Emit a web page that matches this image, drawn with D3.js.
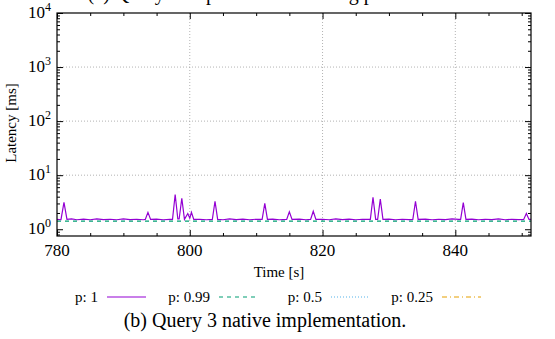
<!DOCTYPE html>
<html>
<head>
<meta charset="utf-8">
<script src="https://cdn.jsdelivr.net/npm/d3@7"></script>
<style>
  body { margin: 0; background: #fff; }
  text { font-family: "Liberation Serif", "DejaVu Serif", serif; fill: #000; }
</style>
</head>
<body>
<div id="chart"></div>
<script>
// valeurs (temps en s, latence en ms)
var p1Time = [780.0, 780.6, 781.05, 781.5, 782.2, 783, 784, 785, 786, 787, 788, 789, 790, 791, 792, 793,
  793.3, 793.7, 794.1, 795, 796, 797, 797.4, 797.8, 798.2, 798.4, 798.8, 799.2, 799.7, 800.0, 800.25, 800.6,
  801.5, 802.5, 803.4, 803.8, 804.2, 805, 806, 807, 808, 809, 810, 810.9, 811.3, 811.7, 812.5, 813.5,
  814.6, 815.0, 815.4, 816.5, 817.5, 818.2, 818.6, 819.0, 820, 821, 822, 823, 824, 825, 826, 827.2,
  827.6, 828.0, 828.3, 828.7, 829.1, 830, 831, 832, 833, 833.6, 834.0, 834.4, 835.5, 836.5, 837.5, 838.5,
  839.5, 840.5, 840.8, 841.2, 841.6, 842.5, 843.5, 844.5, 845.5, 846.5, 847.5, 848.5, 849.5, 850.3, 850.7,
  851.1, 851.6];
var p1Lat = [1.52, 1.50, 3.15, 1.52, 1.55, 1.50, 1.54, 1.50, 1.55, 1.51, 1.53, 1.50, 1.55, 1.51, 1.53, 1.50,
  1.52, 2.05, 1.52, 1.54, 1.50, 1.52, 1.52, 4.4, 1.55, 1.55, 3.75, 1.52, 1.95, 1.60, 2.05, 1.52,
  1.53, 1.50, 1.52, 3.3, 1.52, 1.50, 1.55, 1.51, 1.54, 1.50, 1.53, 1.52, 3.0, 1.52, 1.54, 1.50,
  1.52, 2.1, 1.52, 1.54, 1.50, 1.52, 2.15, 1.52, 1.53, 1.50, 1.55, 1.51, 1.54, 1.50, 1.53, 1.52,
  3.9, 1.52, 1.52, 3.6, 1.52, 1.54, 1.50, 1.53, 1.51, 1.52, 3.3, 1.52, 1.54, 1.50, 1.53, 1.51,
  1.55, 1.52, 1.52, 3.1, 1.52, 1.54, 1.50, 1.53, 1.51, 1.55, 1.50, 1.53, 1.51, 1.52, 1.95,
  1.52, 1.52];
var p099Time = [780, 790, 800, 810, 820, 830, 840, 851.6];
var p099Lat = [1.41, 1.41, 1.41, 1.41, 1.41, 1.41, 1.41, 1.41];
// p: 0.5 et p: 0.25 n'apparaissent pas dans cette fenêtre
var p05Time = [], p05Lat = [];
var p025Time = [], p025Lat = [];

var seriesNames = ["p: 1", "p: 0.99", "p: 0.5", "p: 0.25"];
var xTicks = [780, 800, 820, 840];
var yTicks = [1, 10, 100, 1000, 10000];

var W = 555, H = 339;
var margin = {top: 13, right: 24, bottom: 103, left: 57},
    width = W - margin.left - margin.right,
    height = H - margin.top - margin.bottom;

var svg = d3.select("#chart").append("svg")
    .attr("width", W)
    .attr("height", H);

// titre coupé du graphique (a) au-dessus
svg.append("text")
    .attr("x", 262)
    .attr("y", 0)
    .attr("text-anchor", "middle")
    .style("font-size", "20px")
    .text("(a) Query 3 implementation using p-values.");

var g = svg.append("g").attr("transform", "translate(" + margin.left + "," + margin.top + ")");

var x = d3.scaleLinear().domain([780, 851.4]).range([0, width]);
var y = d3.scaleLog().domain([0.75, 10000]).range([height, 0]);

// grille pointillée
g.selectAll(".gx").data(xTicks.slice(1))
  .enter().append("line")
    .attr("x1", function(d) { return x(d); })
    .attr("x2", function(d) { return x(d); })
    .attr("y1", 0).attr("y2", height)
    .style("stroke", "#a0a0a0").style("stroke-width", 0.8).style("stroke-dasharray", "1,2");
g.selectAll(".gy").data(yTicks.slice(1, 4))
  .enter().append("line")
    .attr("x1", 0).attr("x2", width)
    .attr("y1", function(d) { return y(d); })
    .attr("y2", function(d) { return y(d); })
    .style("stroke", "#a0a0a0").style("stroke-width", 0.8).style("stroke-dasharray", "1,2");

// graduations vers l'intérieur (gnuplot)
var yMinor = [];
[0.1, 1, 10, 100, 1000].forEach(function(dec) {
  for (var k = 2; k <= 9; k++) if (dec * k >= 0.75) yMinor.push(dec * k);
});
var xMinor = d3.range(785, 851, 5).filter(function(d) { return d % 20 != 0; });

function tickAxis(axis, ticks, len) {
  return axis.tickValues(ticks).tickSize(len).tickFormat("");
}
g.append("g").call(tickAxis(d3.axisRight(y), yMinor, 3));
g.append("g").call(tickAxis(d3.axisRight(y), yTicks, 6));
g.append("g").attr("transform", "translate(" + width + ",0)").call(tickAxis(d3.axisLeft(y), yMinor, 3));
g.append("g").attr("transform", "translate(" + width + ",0)").call(tickAxis(d3.axisLeft(y), yTicks, 6));
g.append("g").attr("transform", "translate(0," + height + ")").call(tickAxis(d3.axisTop(x), xMinor, 3));
g.append("g").attr("transform", "translate(0," + height + ")").call(tickAxis(d3.axisTop(x), xTicks, 6));
g.append("g").call(tickAxis(d3.axisBottom(x), xMinor, 3));
g.append("g").call(tickAxis(d3.axisBottom(x), xTicks, 6));
g.selectAll(".domain").remove();
g.selectAll(".tick line").style("stroke", "#000").style("stroke-width", 1);

// étiquettes
g.selectAll(".xl").data(xTicks)
  .enter().append("text")
    .attr("x", function(d) { return x(d); })
    .attr("y", height + 20)
    .attr("text-anchor", "middle")
    .style("font-size", "17px")
    .text(function(d) { return d; });

var yl = g.selectAll(".yl").data(yTicks)
  .enter().append("text")
    .attr("x", -6)
    .attr("y", function(d) { return y(d) + 5; })
    .attr("text-anchor", "end")
    .style("font-size", "17px");
yl.append("tspan").text("10");
yl.append("tspan").attr("dy", -7).style("font-size", "12px")
    .text(function(d) { return Math.round(Math.log10(d)); });

svg.append("text")
    .attr("transform", "translate(16," + (margin.top + 110) + ") rotate(-90)")
    .attr("text-anchor", "middle")
    .style("font-size", "15px")
    .text("Latency [ms]");
svg.append("text")
    .attr("x", 279).attr("y", 277)
    .attr("text-anchor", "middle")
    .style("font-size", "15px")
    .text("Time [s]");

// courbes
var color = d3.scaleOrdinal().domain(seriesNames).range(["#9400d3", "#009e73", "#56b4e9", "#e69f00"]);
var dash = {"p: 1": null, "p: 0.99": "4,4", "p: 0.5": "1,2", "p: 0.25": "5,3,1,3"};
var series = [
  {name: "p: 1", t: p1Time, v: p1Lat},
  {name: "p: 0.99", t: p099Time, v: p099Lat},
  {name: "p: 0.5", t: p05Time, v: p05Lat},
  {name: "p: 0.25", t: p025Time, v: p025Lat}
];
var line = d3.line().x(function(d) { return x(d[0]); }).y(function(d) { return y(d[1]); });

var clip = g.append("clipPath").attr("id", "clip").append("rect").attr("width", width).attr("height", height);
g.append("g").attr("clip-path", "url(#clip)")
  .selectAll("path").data(series)
  .enter().append("path")
    .attr("d", function(s) { return line(d3.zip(s.t, s.v)); })
    .style("fill", "none")
    .style("stroke", function(s) { return color(s.name); })
    .style("stroke-width", 1.2)
    .style("stroke-dasharray", function(s) { return dash[s.name]; });

// cadre
g.append("rect").attr("width", width).attr("height", height)
    .style("fill", "none").style("stroke", "#000").style("stroke-width", 1.2);

// légende
var legX = [98, 210, 322, 433];
var leg = svg.selectAll(".leg").data(seriesNames)
  .enter().append("g")
    .attr("transform", function(d, i) { return "translate(" + legX[i] + ",297)"; });
leg.append("text")
    .attr("text-anchor", "end")
    .attr("y", 5)
    .style("font-size", "15px")
    .text(function(d) { return d; });
leg.append("line")
    .attr("x1", 9).attr("x2", 48)
    .style("stroke", function(d) { return color(d); })
    .style("stroke-width", 1.2)
    .style("stroke-dasharray", function(d) { return dash[d]; });

svg.append("text")
    .attr("x", 265).attr("y", 327)
    .attr("text-anchor", "middle")
    .style("font-size", "20px")
    .text("(b) Query 3 native implementation.");
</script>
</body>
</html>
